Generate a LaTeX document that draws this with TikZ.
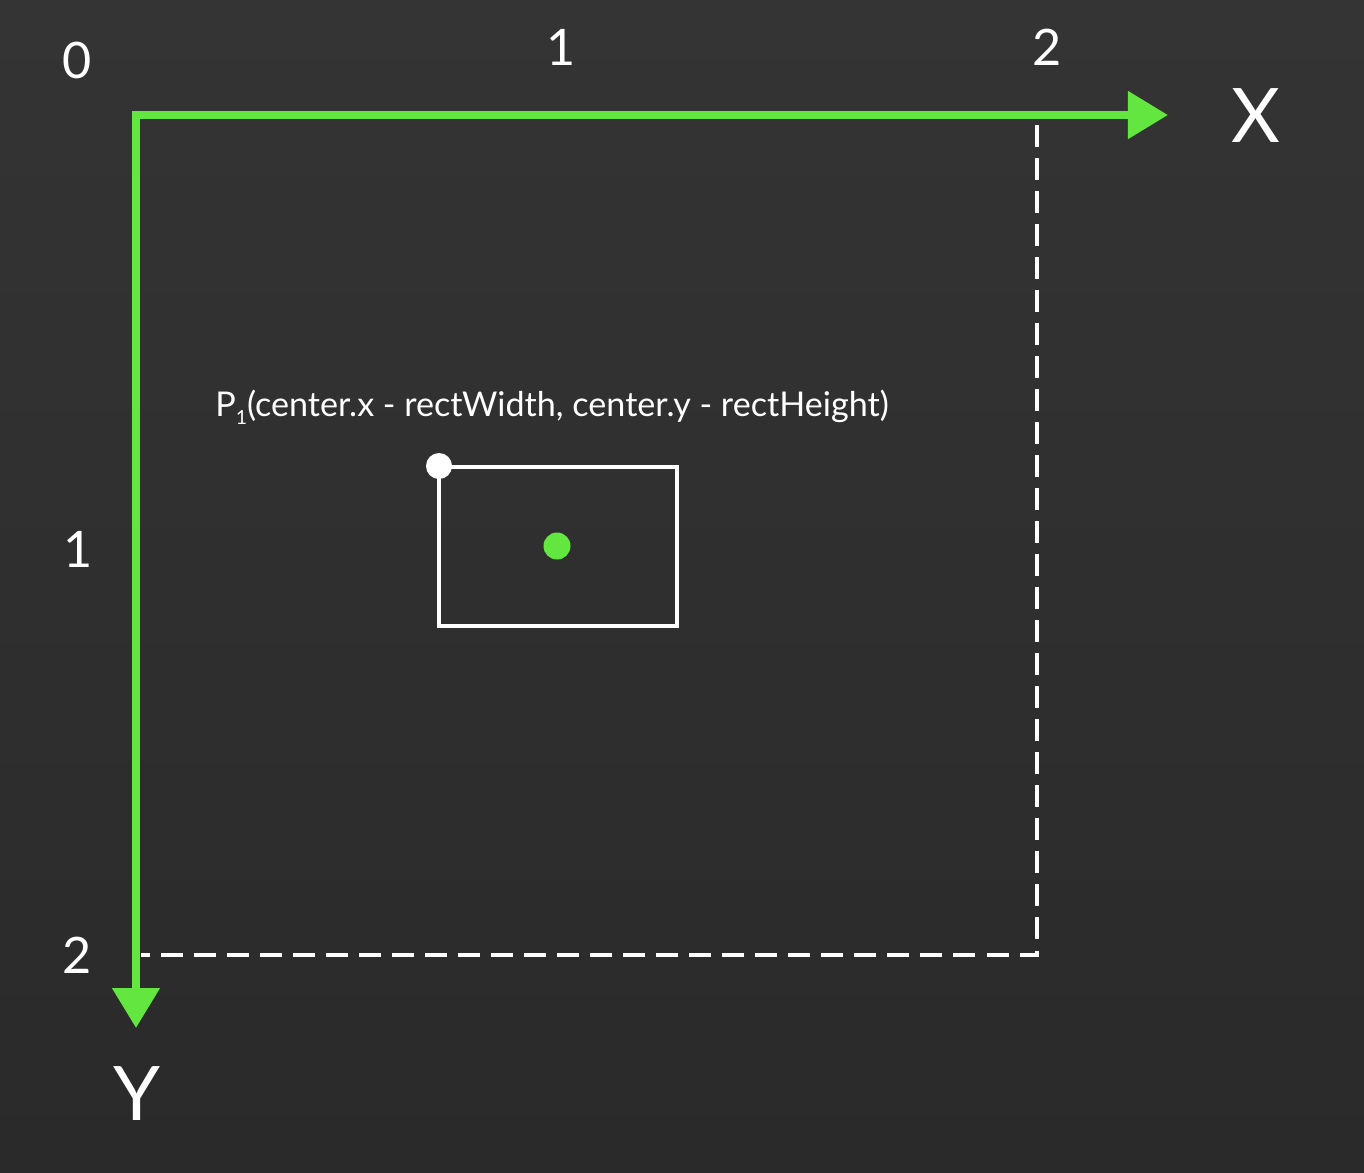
\documentclass[tikz,border=0pt]{standalone}
\usepackage{fontspec}
\setmainfont{Lato}
\usetikzlibrary{arrows.meta}
\definecolor{bgtop}{HTML}{343434}
\definecolor{bgbot}{HTML}{2A2A2A}
\definecolor{axisgreen}{HTML}{63E63F}
\tikzset{
  axisline/.style={line width=0.08cm, color=axisgreen, -{Triangle[length=0.4cm, width=0.46cm]}},
  guideline/.style={line width=0.045cm, color=white, dash pattern=on 0.22cm off 0.11cm},
  ticklabel/.style={text=white, font=\fontsize{14.3}{17}\selectfont, inner sep=0pt},
  axislabel/.style={text=white, font=\fontsize{21.4}{25}\selectfont, inner sep=0pt},
  pointlabel/.style={text=white, font=\fontsize{9.7}{11}\selectfont, inner sep=0pt},
}
\begin{document}
\begin{tikzpicture}[x=0.01cm, y=-0.01cm]
		%%%%% START %%%%%
		\useasboundingbox (0, 0) rectangle (1364, 1172);
		\shade[top color=bgtop, bottom color=bgbot] (0, 0) rectangle (1364, 1172);
		
		\coordinate (origin) at (136, 115);
		\coordinate (xend) at (1168, 115);
		\coordinate (yend) at (136, 1028);
		\coordinate (corner) at (1037, 955);
		\coordinate (xtop) at (1037, 125);
		\coordinate (yleft) at (141, 955);
		
		% dashed limits
		\draw[guideline] (xtop) -- (corner) -- (yleft);
		
		% axes
		\draw[axisline] (yend |- origin) -- (xend);
		\draw[axisline, line cap=rect] (origin) -- (yend);
		
		\node[ticklabel] (zero) at (77, 60) {0};
		\node[ticklabel] (xone) at (561, 47) {1};
		\node[ticklabel] (xtwo) at (1047, 47) {2};
		\node[ticklabel] (yone) at (78, 549) {1};
		\node[ticklabel] (ytwo) at (77, 955) {2};
		\node[axislabel] (xname) at (1256, 116) {X};
		\node[axislabel] (yname) at (137, 1094) {Y};
		
		% rectangle and its points
		\draw[line width=0.04cm, color=white] (439, 467) rectangle (677, 626);
		\node[circle, fill=axisgreen, minimum size=0.27cm, inner sep=0pt] (center) at (557, 546) {};
		\node[circle, fill=white, minimum size=0.26cm, inner sep=0pt] (pone) at (439, 466) {};
		\node[pointlabel] (ponelabel) at (552, 407) {P\raisebox{-0.45ex}{\fontsize{5.5}{6}\selectfont 1}(center.x - rectWidth, center.y - rectHeight)};
		%%%%% END %%%%%
	\end{tikzpicture}
\end{document}
